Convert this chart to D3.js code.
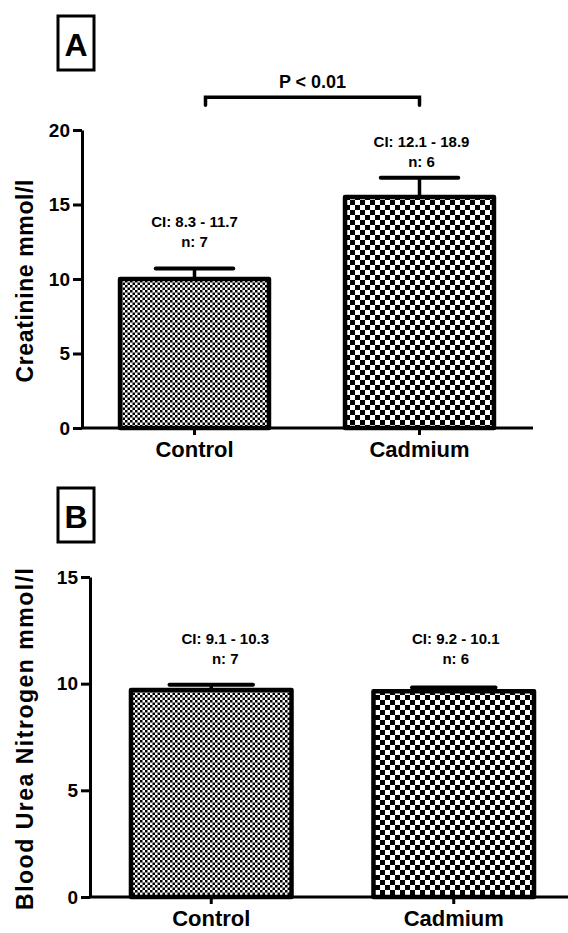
<!DOCTYPE html>
<html>
<head>
<meta charset="utf-8">
<script src="https://cdn.jsdelivr.net/npm/d3@7"></script>
<style>
  body { margin: 0; background: #fff; }
  svg { display: block; font-family: "Liberation Sans", Arial, sans-serif; font-weight: bold; }
</style>
</head>
<body>
<div id="chart"></div>
<script>
// data
const categories = ['Control', 'Cadmium'];
const creatinineMean = [10.0, 15.5];
const creatinineSem = [0.7, 1.3];
const creatinineCI = ['CI: 8.3 - 11.7', 'CI: 12.1 - 18.9'];
const creatinineN = [7, 6];
const creatinineTicks = [0, 5, 10, 15, 20];
const bunMean = [9.7, 9.65];
const bunSem = [0.25, 0.17];
const bunCI = ['CI: 9.1 - 10.3', 'CI: 9.2 - 10.1'];
const bunN = [7, 6];
const bunTicks = [0, 5, 10, 15];
const pText = 'P < 0.01';

const svg = d3.select('#chart')
  .append('svg')
  .attr('width', 568)
  .attr('height', 933);

// checker fills
const defs = svg.append('defs');
function checker(id, size) {
  const p = defs.append('pattern')
    .attr('id', id)
    .attr('patternUnits', 'userSpaceOnUse')
    .attr('width', size * 2)
    .attr('height', size * 2);
  p.append('rect').attr('width', size * 2).attr('height', size * 2).attr('fill', '#fff');
  p.append('rect').attr('width', size).attr('height', size).attr('fill', '#000');
  p.append('rect').attr('x', size).attr('y', size).attr('width', size).attr('height', size).attr('fill', '#000');
}
checker('fine', 2.5);
checker('coarse', 5);
const fills = ['url(#fine)', 'url(#coarse)'];

function drawPanel(cfg) {
  const g = svg.append('g');

  const x = d3.scaleBand()
    .domain(categories)
    .range([cfg.left, cfg.right])
    .paddingInner(0.338)
    .paddingOuter(0.169);

  const y = d3.scaleLinear()
    .domain([0, cfg.max])
    .range([cfg.bottom, cfg.top]);

  const rows = categories.map((c, i) => ({
    cat: c, mean: cfg.mean[i], sem: cfg.sem[i], ci: cfg.ci[i], n: cfg.n[i],
    fill: fills[i], labelAt: cfg.labelAt[i], labelDx: cfg.labelDx[i]
  }));

  // panel letter
  g.append('rect')
    .attr('x', 58).attr('y', cfg.boxY)
    .attr('width', 36).attr('height', 54)
    .attr('fill', 'none').attr('stroke', '#000').attr('stroke-width', 3);
  g.append('text')
    .attr('x', 76).attr('y', cfg.boxY + 40)
    .attr('text-anchor', 'middle')
    .attr('font-size', 32)
    .text(cfg.letter);

  // y axis
  const yAxis = g.append('g')
    .attr('transform', `translate(${cfg.left},0)`)
    .call(d3.axisLeft(y).tickValues(cfg.ticks).tickSize(9).tickSizeOuter(0).tickPadding(3));
  yAxis.selectAll('path, line').attr('stroke', '#000').attr('stroke-width', 3);
  yAxis.selectAll('text')
    .attr('font-size', 19).attr('font-family', '"Liberation Sans", Arial, sans-serif')
    .attr('font-weight', 'bold').attr('fill', '#000');

  // x axis
  const xAxis = g.append('g')
    .attr('transform', `translate(0,${cfg.bottom})`)
    .call(d3.axisBottom(x).tickSize(7).tickSizeOuter(0).tickPadding(cfg.catPad));
  xAxis.select('.domain').attr('d', `M${cfg.left},0H${cfg.axisEnd}`);
  xAxis.selectAll('path, line').attr('stroke', '#000').attr('stroke-width', 3);
  xAxis.selectAll('text')
    .attr('font-size', 22).attr('font-family', '"Liberation Sans", Arial, sans-serif')
    .attr('font-weight', 'bold').attr('fill', '#000');

  // y title
  g.append('text')
    .attr('transform', `translate(33,${(cfg.top + cfg.bottom) / 2 + 2}) rotate(-90)`)
    .attr('text-anchor', 'middle')
    .attr('font-size', 23)
    .attr('textLength', cfg.titleLen)
    .attr('lengthAdjust', 'spacing')
    .text(cfg.title);

  const cx = d => x(d.cat) + x.bandwidth() / 2;
  const capHalf = x.bandwidth() * 0.26;

  // error bars (upper only)
  g.selectAll('.err')
    .data(rows)
    .enter()
    .append('line')
    .attr('x1', cx).attr('x2', cx)
    .attr('y1', d => y(d.mean)).attr('y2', d => y(d.mean + d.sem))
    .attr('stroke', '#000').attr('stroke-width', 3.5);
  g.selectAll('.cap')
    .data(rows)
    .enter()
    .append('line')
    .attr('x1', d => cx(d) - capHalf).attr('x2', d => cx(d) + capHalf)
    .attr('y1', d => y(d.mean + d.sem)).attr('y2', d => y(d.mean + d.sem))
    .attr('stroke', '#000').attr('stroke-width', 4).attr('stroke-linecap', 'round');

  // bars
  g.selectAll('.bar')
    .data(rows)
    .enter()
    .append('rect')
    .attr('x', d => x(d.cat))
    .attr('y', d => y(d.mean))
    .attr('width', x.bandwidth())
    .attr('height', d => y(0) - y(d.mean))
    .attr('fill', d => d.fill)
    .attr('stroke', '#000')
    .attr('stroke-width', 4.5)
    .attr('stroke-linejoin', 'round');

  // CI / n labels
  const lab = g.selectAll('.lab')
    .data(rows)
    .enter()
    .append('text')
    .attr('text-anchor', 'middle')
    .attr('font-size', 15)
    .attr('x', d => cx(d) + d.labelDx)
    .attr('y', d => y(d.labelAt));
  lab.append('tspan').attr('dy', -20).text(d => d.ci);
  lab.append('tspan').attr('x', d => cx(d) + d.labelDx).attr('dy', 20).text(d => 'n: ' + d.n);

  return { g, x, y };
}

const A = drawPanel({
  letter: 'A', boxY: 16,
  left: 82, right: 532, axisEnd: 533, top: 130, bottom: 428, max: 20,
  ticks: creatinineTicks, mean: creatinineMean, sem: creatinineSem,
  ci: creatinineCI, n: creatinineN,
  labelAt: [12.15, 17.5], labelDx: [0, 2], catPad: 6,
  title: 'Creatinine mmol/l', titleLen: 203
});

drawPanel({
  letter: 'B', boxY: 488,
  left: 90, right: 575, axisEnd: 568, top: 577, bottom: 897, max: 15,
  ticks: bunTicks, mean: bunMean, sem: bunSem,
  ci: bunCI, n: bunN,
  labelAt: [10.9, 10.9], labelDx: [14, 2], catPad: 6,
  title: 'Blood Urea Nitrogen mmol/l', titleLen: 342
});

// significance bracket on panel A
const bx0 = A.x(categories[0]) + A.x.bandwidth() / 2 + 11;
const bx1 = A.x(categories[1]) + A.x.bandwidth() / 2;
const by = A.y(22.2);
A.g.append('path')
  .attr('d', `M${bx0},${by + 8}V${by}H${bx1}V${by + 8}`)
  .attr('fill', 'none')
  .attr('stroke', '#000')
  .attr('stroke-width', 3.5)
  .attr('stroke-linecap', 'round');
A.g.append('text')
  .attr('x', (bx0 + bx1) / 2)
  .attr('y', by - 9)
  .attr('text-anchor', 'middle')
  .attr('font-size', 18)
  .text(pText);
</script>
</body>
</html>
